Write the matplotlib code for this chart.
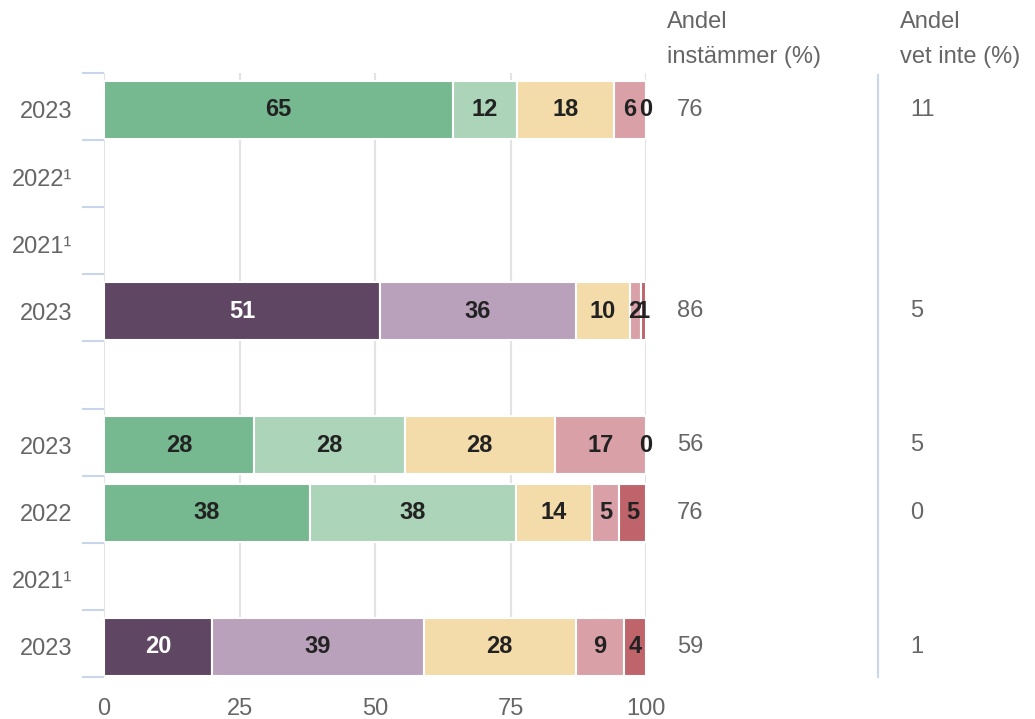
import matplotlib.pyplot as plt
import numpy as np

plt.rcParams['font.family'] = ['Liberation Sans', 'DejaVu Sans']

# Rows from top to bottom (empty rows have no bar)
row_labels = ['2023', '2022¹', '2021¹', '2023', '', '2023', '2022', '2021¹', '2023']
row_kind = ['green', None, None, 'purple', None, 'green', 'green', None, 'purple']
values = [
    [65, 12, 18, 6, 0],
    None,
    None,
    [51, 36, 10, 2, 1],
    None,
    [28, 28, 28, 17, 0],
    [38, 38, 14, 5, 5],
    None,
    [20, 39, 28, 9, 4],
]
andel_instammer = ['76', '', '', '86', '', '56', '76', '', '59']
andel_vet_inte = ['11', '', '', '5', '', '5', '0', '', '1']

palettes = {
    'green': ['#76b88f', '#acd4b9', '#f3dca9', '#d9a0a7', '#c0646c'],
    'purple': ['#5f4763', '#b9a1bb', '#f3dca9', '#d9a0a7', '#c0646c'],
}
text_dark = '#222222'
text_gray = '#666666'
fs = 17
off = 0.05  # bars sit slightly below the slot centre

fig = plt.figure(figsize=(10.35, 7.19), dpi=100)
ax = fig.add_axes([104 / 1035, 1 - 677 / 719, 542 / 1035, 604 / 719])

n = len(row_labels)
y = np.arange(n) + off
for i in range(n):
    if values[i] is None:
        continue
    vals = np.array(values[i], dtype=float)
    widths = vals / vals.sum() * 100
    left = 0
    for j, (v, w) in enumerate(zip(values[i], widths)):
        col = palettes[row_kind[i]][j]
        ax.barh(y[i], w, left=left, height=0.865, color=col,
                edgecolor='white', linewidth=1.5, zorder=3)
        tcol = 'white' if col == '#5f4763' else text_dark
        ax.text(left + w / 2, y[i], str(v), ha='center', va='center',
                fontsize=fs, fontweight='bold', color=tcol, zorder=4)
        left += w

ax.set_xlim(0, 100)
ax.set_ylim(n - 0.5, -0.5)

# grid & spines
ax.set_xticks([0, 25, 50, 75, 100])
ax.grid(axis='x', color='#e3e3e3', linewidth=1.5, zorder=0)
for s in ax.spines.values():
    s.set_visible(False)
ax.tick_params(axis='x', length=0, pad=15, labelsize=fs, labelcolor=text_gray)

ax.set_yticks(y)
ax.set_yticklabels(row_labels)
ax.set_yticks(np.arange(n + 1) - 0.5, minor=True)
ax.tick_params(axis='y', which='major', length=0, pad=23, labelsize=fs,
               labelcolor=text_gray)
ax.tick_params(axis='y', which='minor', length=16, width=1.5, color='#c9d5ec')

# right-hand columns
x_inst = (677 - 104) / 5.42
x_vet = (910 - 104) / 5.42
for i in range(n):
    ax.text(x_inst, y[i], andel_instammer[i], ha='left', va='center',
            fontsize=fs, color=text_gray, clip_on=False)
    ax.text(x_vet, y[i], andel_vet_inte[i], ha='left', va='center',
            fontsize=fs, color=text_gray, clip_on=False)

x_line = (878 - 104) / 5.42
ax.plot([x_line, x_line], [n - 0.5, -0.47], color='#c9d5ec', linewidth=1.5,
        clip_on=False)

fig.text(667 / 1035, 1 - 22 / 719, 'Andel', ha='left', va='center',
         fontsize=fs, color=text_gray)
fig.text(667 / 1035, 1 - 57 / 719, 'instämmer (%)', ha='left', va='center',
         fontsize=fs, color=text_gray)
fig.text(900 / 1035, 1 - 22 / 719, 'Andel', ha='left', va='center',
         fontsize=fs, color=text_gray)
fig.text(900 / 1035, 1 - 57 / 719, 'vet inte (%)', ha='left', va='center',
         fontsize=fs, color=text_gray)

fig.savefig('out.png', dpi=100)
